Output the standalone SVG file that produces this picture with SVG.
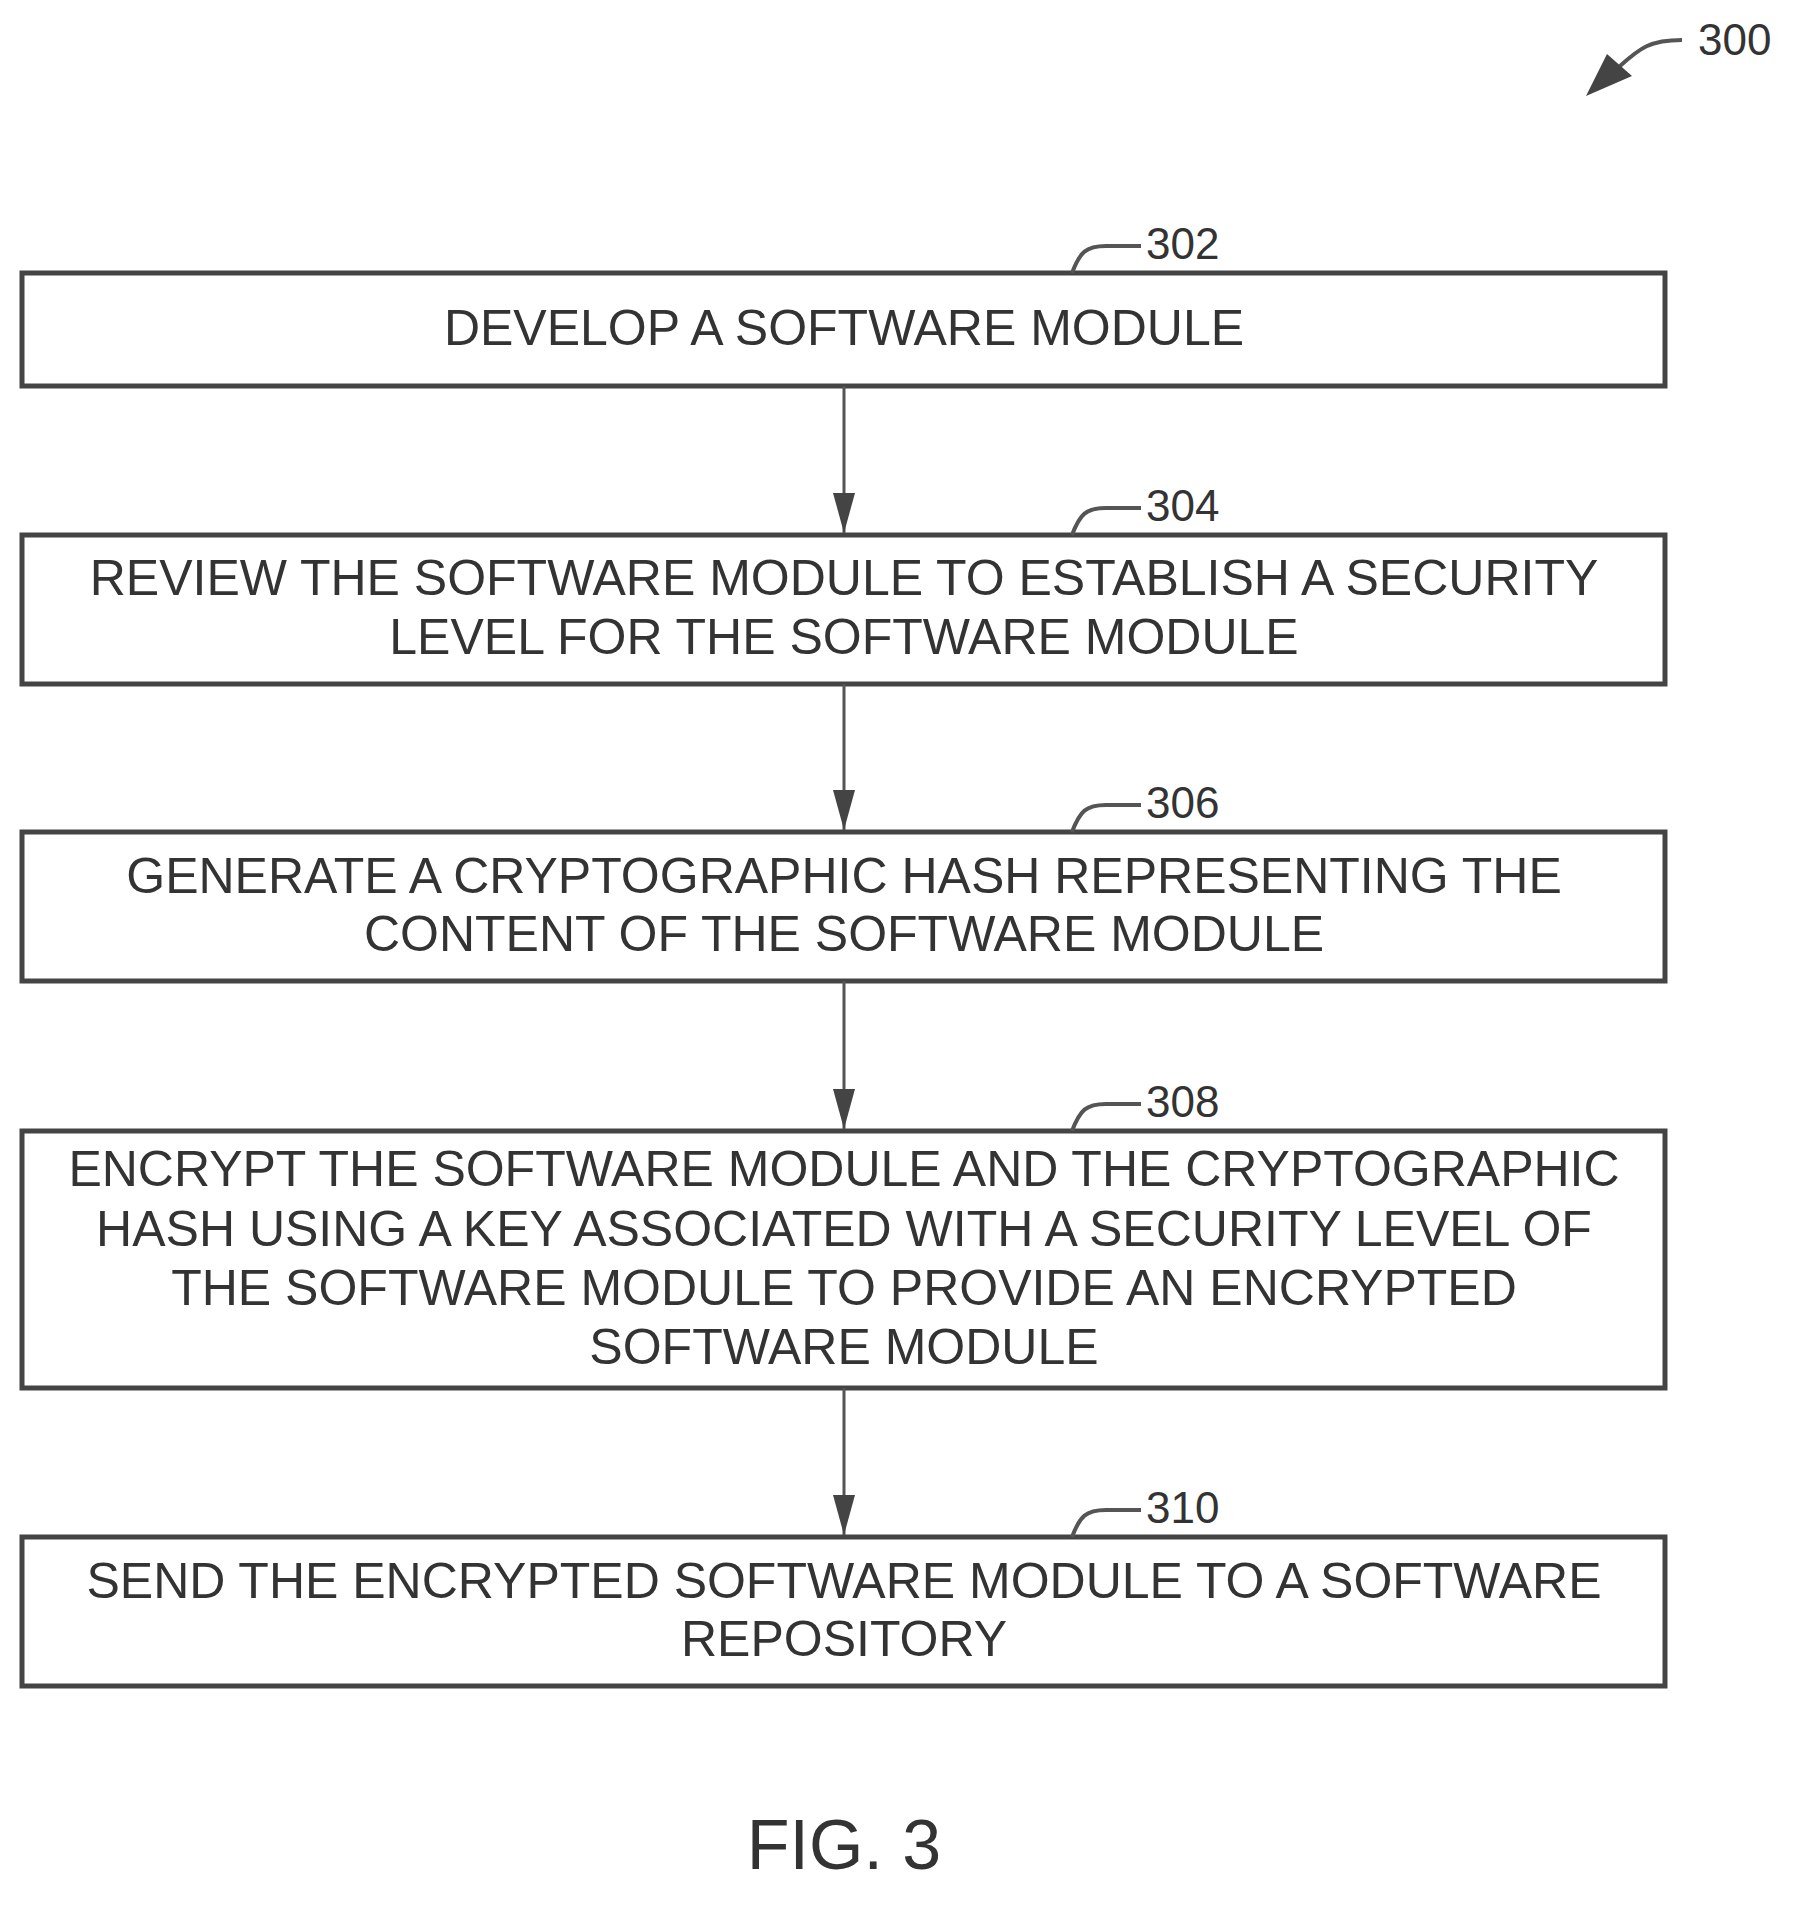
<svg xmlns="http://www.w3.org/2000/svg" width="1811" height="1909" viewBox="0 0 1811 1909">
<defs>
<marker id="ah" viewBox="0 0 40 22" refX="40" refY="11" markerWidth="40" markerHeight="22" markerUnits="userSpaceOnUse" orient="auto">
<path d="M0,0 L40,11 L0,22 Z" fill="#444"/>
</marker>
</defs>
<style>
.box{fill:#fff;stroke:#444;stroke-width:5}
.t{font-family:"Liberation Sans",Arial,sans-serif;font-size:50px;fill:#333;text-anchor:middle}
.ref{font-family:"Liberation Sans",Arial,sans-serif;font-size:44px;fill:#333}
.ld{fill:none;stroke:#555;stroke-width:4}
.cn{stroke:#555;stroke-width:3;fill:none}
</style>
<rect width="1811" height="1909" fill="#fff"/>
<g id="n300">
<path class="ld" d="M1682,40 C1650,40 1640,48 1620,66" stroke-width="6"/>
<path d="M1586,96 L1607,54 L1632,76 Z" fill="#444"/>
<text class="ref" x="1698" y="55">300</text>
</g>
<g id="n302">
<rect class="box" x="22" y="273" width="1643" height="113"/>
<text class="t" x="844" y="345">DEVELOP A SOFTWARE MODULE</text>
<path class="ld" d="M1072,273 C1080,252 1086,246 1106,246 L1141,246"/>
<text class="ref" x="1146" y="259">302</text>
</g>
<g id="n304">
<rect class="box" x="22" y="535" width="1643" height="149"/>
<text class="t" x="844" y="595">REVIEW THE SOFTWARE MODULE TO ESTABLISH A SECURITY</text>
<text class="t" x="844" y="654">LEVEL FOR THE SOFTWARE MODULE</text>
<path class="ld" d="M1072,535 C1080,514 1086,508 1106,508 L1141,508"/>
<text class="ref" x="1146" y="521">304</text>
</g>
<g id="n306">
<rect class="box" x="22" y="832" width="1643" height="149"/>
<text class="t" x="844" y="893">GENERATE A CRYPTOGRAPHIC HASH REPRESENTING THE</text>
<text class="t" x="844" y="951">CONTENT OF THE SOFTWARE MODULE</text>
<path class="ld" d="M1072,832 C1080,811 1086,805 1106,805 L1141,805"/>
<text class="ref" x="1146" y="818">306</text>
</g>
<g id="n308">
<rect class="box" x="22" y="1131" width="1643" height="257"/>
<text class="t" x="844" y="1186">ENCRYPT THE SOFTWARE MODULE AND THE CRYPTOGRAPHIC</text>
<text class="t" x="844" y="1246">HASH USING A KEY ASSOCIATED WITH A SECURITY LEVEL OF</text>
<text class="t" x="844" y="1305">THE SOFTWARE MODULE TO PROVIDE AN ENCRYPTED</text>
<text class="t" x="844" y="1364">SOFTWARE MODULE</text>
<path class="ld" d="M1072,1131 C1080,1110 1086,1104 1106,1104 L1141,1104"/>
<text class="ref" x="1146" y="1117">308</text>
</g>
<g id="n310">
<rect class="box" x="22" y="1537" width="1643" height="149"/>
<text class="t" x="844" y="1598">SEND THE ENCRYPTED SOFTWARE MODULE TO A SOFTWARE</text>
<text class="t" x="844" y="1656">REPOSITORY</text>
<path class="ld" d="M1072,1537 C1080,1516 1086,1510 1106,1510 L1141,1510"/>
<text class="ref" x="1146" y="1523">310</text>
</g>
<g id="connectors">
<line class="cn" x1="844" y1="386" x2="844" y2="533" marker-end="url(#ah)"/>
<line class="cn" x1="844" y1="684" x2="844" y2="830" marker-end="url(#ah)"/>
<line class="cn" x1="844" y1="981" x2="844" y2="1129" marker-end="url(#ah)"/>
<line class="cn" x1="844" y1="1388" x2="844" y2="1535" marker-end="url(#ah)"/>
</g>
<text x="844" y="1869" font-family="Liberation Sans, Arial, sans-serif" font-size="70" fill="#333" text-anchor="middle">FIG. 3</text>
</svg>
